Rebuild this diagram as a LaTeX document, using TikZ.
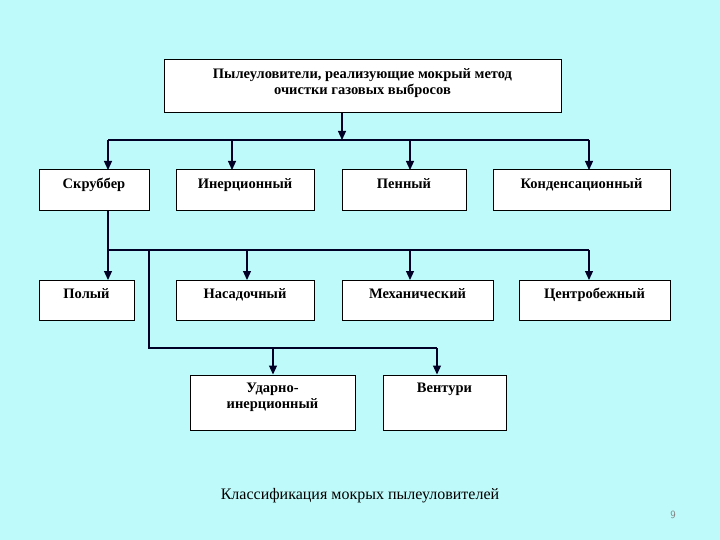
\documentclass[tikz,border=0pt]{standalone}
\usepackage{fontspec}
\setmainfont{Liberation Serif}
\usetikzlibrary{arrows.meta}
\definecolor{bg}{RGB}{190,250,250}
\begin{document}
\begin{tikzpicture}[x=1pt,y=-1pt,
 box/.style={draw=black,fill=white,line width=1pt,inner sep=0pt},
 lab/.style={font=\bfseries\fontsize{14.5}{16}\selectfont,align=center,anchor=north,inner sep=0pt},
 ln/.style={line width=1.2pt,draw=black!85!blue},
 ar/.style={ln,-{Triangle[length=9pt,width=8pt]}}]
\fill[bg] (0,0) rectangle (720,540);
\useasboundingbox (0,0) rectangle (720,540);
\newcommand\bx[6]{\node[box,minimum width=#4-#2,minimum height=#5-#3] (#1) at ({(#2+#4)/2},{(#3+#5)/2}) {};\node[lab] (#1t) at ({(#2+#4)/2},#3+8) {#6};}
\bx{top}{164}{60}{561}{113}{Пылеуловители, реализующие мокрый метод\\очистки газовых выбросов}
\bx{scr}{39}{170}{149}{211}{Скруббер}
\bx{ine}{176}{170}{314}{211}{Инерционный}
\bx{pen}{342}{170}{466}{211}{Пенный}
\bx{kon}{493}{170}{670}{211}{Конденсационный}
\bx{pol}{39}{280}{134}{320}{Полый}
\bx{nas}{176}{280}{314}{320}{Насадочный}
\bx{meh}{342}{280}{493}{320}{Механический}
\bx{cen}{519}{280}{670}{320}{Центробежный}
\bx{uda}{190}{375}{355}{430}{Ударно-\\инерционный}
\bx{ven}{383}{375}{506}{430}{Вентури}
\coordinate (h1) at (342,140);
\coordinate (h2) at (108,250);
\coordinate (h3) at (149,348);
\draw[ar] (top.south -| h1) -- (h1);
\draw[ln] (108,140) -- (589,140);
\draw[ar] (108,140) -- (108,170);
\draw[ar] (232,140) -- (232,170);
\draw[ar] (410,140) -- (410,170);
\draw[ar] (589,140) -- (589,170);
\draw[ln] (scr.south -| h2) -- (h2) -- (589,250);
\draw[ar] (108,250) -- (108,280);
\draw[ar] (247,250) -- (247,280);
\draw[ar] (410,250) -- (410,280);
\draw[ar] (589,250) -- (589,280);
\draw[ln] (149,250) -- (h3) -- (437,348);
\draw[ar] (273,348) -- (uda.north -| 273,0);
\draw[ar] (437,348) -- (ven.north -| 437,0);
\node[font=\fontsize{16}{18}\selectfont] (cap) at (360,496) {Классификация мокрых пылеуловителей};
\node[font=\sffamily\fontsize{11}{13}\selectfont,text=gray] (num) at (673,515) {9};
\end{tikzpicture}
\end{document}
